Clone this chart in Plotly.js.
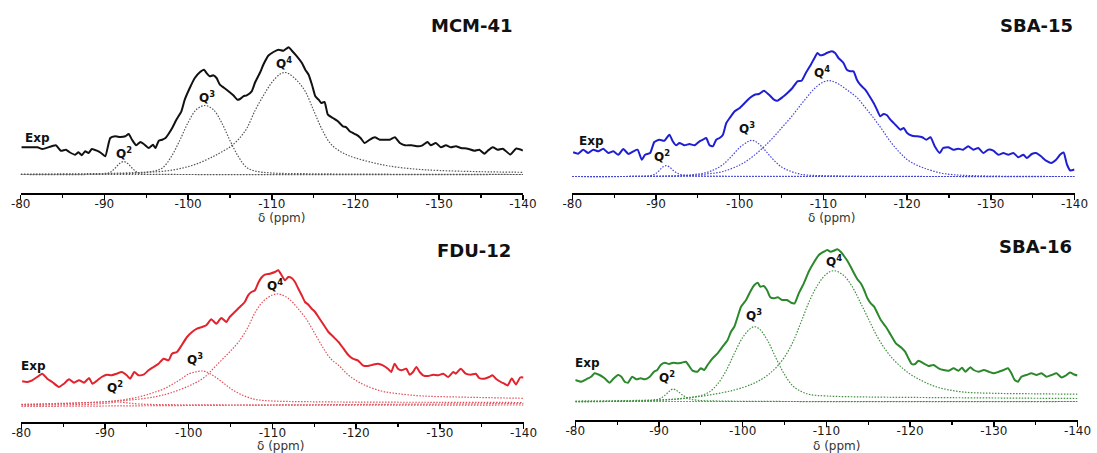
<!DOCTYPE html>
<html><head><meta charset="utf-8">
<script src="https://cdn.plot.ly/plotly-3.0.1.min.js"></script>
<style>html,body{margin:0;padding:0;background:#fff;}#chart{width:1097px;height:453px;}</style>
</head><body><div id="chart"></div>
<script>
// ---------- data ----------
const panelNames = ['MCM-41', 'SBA-15', 'FDU-12', 'SBA-16'];
const tickVals = [-80, -90, -100, -110, -120, -130, -140];
const tickText = ['-80', '-90', '-100', '-110', '-120', '-130', '-140'];
const minorTickVals = [-85, -95, -105, -115, -125, -135];
const axisTitle = 'δ (ppm)';
const labelTexts = ['Exp', 'Q<sup>2</sup>', 'Q<sup>3</sup>', 'Q<sup>4</sup>'];

// MCM-41  [ppm, intensity]
const mcmExp = [[-80.1,45.2],[-82.0,45.2],[-82.6,43.5],[-84.2,47.2],[-84.8,41.8],[-85.4,42.8],[-85.8,40.5],[-86.5,37.8],[-86.9,40.2],[-87.3,37.2],[-87.7,41.2],[-88.1,39.5],[-88.5,43.5],[-89.1,41.8],[-89.6,39.5],[-90.1,36.2],[-90.7,54.5],[-91.3,56.2],[-91.9,55.5],[-92.5,56.2],[-92.9,58.5],[-93.3,52.8],[-93.8,47.2],[-94.3,50.5],[-94.7,48.5],[-95.3,44.5],[-95.8,47.8],[-96.1,44.5],[-96.5,51.8],[-96.9,52.8],[-97.3,54.5],[-97.6,57.8],[-98.1,64.5],[-98.6,72.8],[-99.2,81.2],[-99.6,92.8],[-100.2,104.5],[-100.8,114.5],[-101.4,120.2],[-101.9,122.8],[-102.2,119.5],[-102.6,116.2],[-103.0,117.2],[-103.4,114.5],[-103.8,107.8],[-104.6,102.8],[-105.4,97.2],[-105.9,92.8],[-106.2,93.5],[-106.6,96.2],[-107.0,97.2],[-107.6,101.2],[-108.0,110],[-108.6,120],[-109.0,128],[-109.6,137],[-110.2,140.5],[-110.8,142.8],[-111.4,141.8],[-112.0,145.2],[-112.4,141.8],[-113.0,136.2],[-113.6,129.5],[-114.0,122.8],[-114.4,117.8],[-114.8,107.8],[-115.2,96.2],[-115.6,92.8],[-115.9,89.5],[-116.3,90.5],[-116.7,77.8],[-117.3,74.5],[-117.9,71.2],[-118.5,66.2],[-118.9,65.2],[-119.3,61.2],[-119.7,59.5],[-120.1,57.8],[-120.6,54.5],[-121.1,49.5],[-121.7,52.8],[-122.3,55.2],[-122.9,52.8],[-123.5,52.8],[-124.1,52.8],[-124.7,55.2],[-125.3,49.5],[-125.9,47.2],[-126.7,47.2],[-127.5,46.2],[-128.0,47.2],[-128.6,50.5],[-129.0,47.2],[-129.6,49.5],[-130.2,45.2],[-130.8,47.2],[-131.4,45.2],[-132.0,46.2],[-132.6,44.5],[-133.4,43.8],[-134.2,41.8],[-134.8,42.8],[-135.4,38.8],[-135.8,41.8],[-136.4,45.2],[-137.0,42.8],[-137.6,43.8],[-138.5,38],[-139.2,44],[-140,42]];
const mcmQ2 = [[-80,18],[-88,18],[-89.5,18.3],[-90.3,18.8],[-90.8,20.8],[-91.3,24.5],[-91.8,28.9],[-92.3,31],[-92.8,28.9],[-93.3,24.5],[-93.8,20.8],[-94.3,18.8],[-95,18.3],[-100,18],[-140,18]];
const mcmQ3 = [[-80,18],[-90,18.5],[-94,19.5],[-96,21.5],[-97,25],[-98,36],[-99,52],[-100,70],[-101,83],[-102,87],[-103,83],[-104,70],[-105,52],[-106,36],[-107,25],[-108,21.5],[-110,19.5],[-114,18.8],[-120,18.4],[-140,18]];
const mcmQ4 = [[-80,18.3],[-88,18.8],[-92,19.4],[-95,20.3],[-97,21.2],[-99,23.8],[-101,28.5],[-103,36],[-104,40.5],[-105,45.5],[-106,53],[-107,64],[-108,82],[-109,97],[-110,110],[-111,118.5],[-111.5,120],[-112,119],[-113,112],[-114,101],[-115,82],[-116,63],[-117,49],[-118,42],[-119,37.5],[-120,34.5],[-122,30],[-124,26.5],[-127,23.5],[-130,22],[-135,20.8],[-140,20.2]];
const mcmBase = [[-80,18],[-140,18]];

// SBA-15
const sba15Exp = [[-80.1,40.2],[-80.7,38.8],[-81.3,42.8],[-81.9,39.5],[-82.5,42.8],[-83.1,41.2],[-83.7,43.8],[-84.3,39.5],[-84.9,41.2],[-85.5,37.8],[-86.1,43.5],[-86.7,38.5],[-87.3,41.2],[-87.8,42.8],[-88.3,32.8],[-88.7,37.8],[-89.3,39.5],[-89.8,50.5],[-90.4,52.8],[-91.0,51.8],[-91.6,57.8],[-92.0,51.2],[-92.4,47.2],[-92.8,49.5],[-93.4,47.2],[-94.0,48.5],[-94.6,47.2],[-95.2,51.2],[-95.6,52.8],[-96.0,54.5],[-96.4,47.2],[-96.8,46.2],[-97.2,52.8],[-97.6,54.5],[-98.0,57.8],[-98.4,69.5],[-98.8,74.5],[-99.4,81.2],[-100.0,84.5],[-100.6,89.5],[-101.2,94.5],[-101.8,97.8],[-102.3,98.5],[-102.9,101.8],[-103.5,97.8],[-104.1,92.8],[-104.5,91.8],[-105.1,95.2],[-105.7,99.5],[-106.3,104.5],[-106.9,111.2],[-107.4,111.8],[-107.9,119.5],[-108.5,127.8],[-108.9,134],[-109.3,139.5],[-109.6,137.2],[-110.0,137.8],[-110.4,139.5],[-111.0,141.2],[-111.4,139.5],[-111.8,134.5],[-112.4,129.5],[-112.8,122.8],[-113.2,121.2],[-113.6,121.2],[-114.0,112.8],[-114.4,107.8],[-115.0,102.8],[-115.4,97.8],[-116.0,89.5],[-116.4,82.8],[-116.8,76.2],[-117.2,78.5],[-117.6,77.2],[-118.0,72.8],[-118.6,67.8],[-119.2,62.8],[-119.6,64.5],[-120.0,59.5],[-120.6,56.8],[-121.2,56.2],[-121.8,55.2],[-122.3,52.8],[-122.8,55.2],[-123.3,46.2],[-123.9,39.5],[-124.3,44.5],[-124.9,45.2],[-125.5,42.8],[-126.1,43.8],[-126.7,42.8],[-127.3,46.2],[-127.9,42.8],[-128.5,44.5],[-129.1,39.5],[-129.7,42.8],[-130.3,41.8],[-130.9,37.8],[-131.5,39.5],[-132.1,37.8],[-132.7,39.5],[-133.3,35.2],[-133.9,37.8],[-134.3,34.5],[-134.9,38.5],[-135.4,39.5],[-136.0,36.2],[-136.6,31.8],[-137.2,29.5],[-137.8,32.8],[-138.3,38],[-138.7,40],[-139.1,28],[-139.5,22],[-140,23]];
const sba15Q2 = [[-80,16],[-88,16.2],[-89.3,16.8],[-89.9,18.5],[-90.4,22],[-90.8,25.5],[-91.2,26.8],[-91.6,25.5],[-92.0,22.5],[-92.5,19.5],[-93.0,17.8],[-94,17],[-96,16.5],[-100,16.2],[-140,16]];
const sba15Q3 = [[-80,16],[-90,16.3],[-94,17.5],[-96,20],[-97,23],[-98,28],[-99,36],[-100,45],[-101,51],[-101.4,52.2],[-102,50.5],[-103,42.5],[-104,33],[-105,25.5],[-106,21.5],[-107,18.8],[-108,17.5],[-112,16.5],[-140,16]];
const sba15Q4 = [[-80,16],[-90,16.2],[-94,17],[-96,18.5],[-98,21],[-100,27.5],[-101,32.5],[-102,39],[-103,46.5],[-104,55],[-105,64.5],[-106,74],[-107,84.5],[-108,95],[-109,104.5],[-110,110.5],[-110.6,111.8],[-111,111.5],[-112,107.5],[-113,101.5],[-114,95],[-115,85],[-116,74.5],[-117,63],[-118,51],[-119,41],[-120,33],[-121,28],[-122,24.5],[-124,19.5],[-126,17.5],[-128,16.8],[-132,16.2],[-140,16]];
const sba15Base = [[-80,16],[-140,16]];

// FDU-12
const fduExp = [[-80.1,40.2],[-80.7,39.5],[-81.3,41.2],[-81.9,44.5],[-82.5,47.8],[-83.1,42.8],[-83.7,39.5],[-84.5,34.5],[-85.1,37.8],[-85.7,42.2],[-86.3,38.8],[-86.9,41.2],[-87.5,38.8],[-88.1,43.5],[-88.5,37.8],[-89.1,41.2],[-89.6,44.5],[-90.2,46.8],[-90.8,46.2],[-91.4,47.8],[-92.0,49.5],[-92.6,46.2],[-93.0,42.8],[-93.5,49.5],[-94.0,46.2],[-94.6,46.8],[-95.2,51.2],[-95.8,54.5],[-96.4,57.8],[-97.0,62.8],[-97.6,61.2],[-98.0,67.8],[-98.6,69.5],[-99.2,76.8],[-99.8,84.5],[-100.4,89.5],[-101.0,92.8],[-101.6,94.5],[-102.1,96.2],[-102.7,102.2],[-103.3,97.8],[-103.9,103.5],[-104.5,99.5],[-104.9,104.5],[-105.5,109.5],[-106.1,114.5],[-106.7,119.5],[-107.1,126.2],[-107.5,129.5],[-107.9,131],[-108.3,138.5],[-108.7,144],[-109.1,146.8],[-109.7,147.8],[-110.3,149.5],[-110.7,151.2],[-111.1,146.2],[-111.5,141.2],[-111.9,144.5],[-112.3,143.5],[-112.7,139.5],[-113.1,132.8],[-113.5,126.2],[-113.9,119.5],[-114.3,116.8],[-114.7,112.8],[-115.1,109.5],[-115.5,104.5],[-115.9,99.5],[-116.3,94.5],[-116.7,89.5],[-117.3,84.5],[-117.9,79.5],[-118.5,72.8],[-119.1,66.2],[-119.6,62.8],[-120.2,61.2],[-120.8,56.2],[-121.4,55.5],[-122.0,56.8],[-122.6,57.8],[-123.2,56.2],[-123.8,52.8],[-124.2,49.5],[-124.6,57.8],[-125.0,52.8],[-125.4,51.2],[-126.0,52.8],[-126.4,46.8],[-126.8,49.5],[-127.2,54.5],[-127.6,49.5],[-128.0,46.2],[-128.6,45.5],[-129.2,46.8],[-129.8,46.2],[-130.4,47.8],[-131.0,44.5],[-131.6,49.5],[-131.9,47.8],[-132.5,52.8],[-133.1,47.8],[-133.7,46.8],[-134.3,47.8],[-134.7,43.5],[-135.3,42.8],[-135.9,44.5],[-136.3,46.2],[-136.7,42.8],[-137.3,39.5],[-137.7,37.8],[-138.1,36],[-138.6,43],[-139.1,37],[-139.6,44],[-140,44]];
const fduQ2 = [[-80,16.3],[-86,16.8],[-89,17.5],[-90.5,18.5],[-91.5,19.5],[-92.5,18.8],[-94,17.5],[-98,16.8],[-140,16.5]];
const fduQ3 = [[-80,16.8],[-85,17.8],[-88,18.8],[-90,19.6],[-92,21.5],[-93,22.8],[-94,24.5],[-95,26.8],[-96,29.5],[-97,32.5],[-98,37],[-99,42],[-100,47.5],[-101,50],[-101.6,50.5],[-102,50],[-103,45.5],[-104,39.5],[-105,33],[-106,28],[-107,24.5],[-108,22],[-110,20.5],[-114,19.8],[-120,19.4],[-130,19.2],[-140,19]];
const fduQ4 = [[-80,17.2],[-85,18.2],[-90,19.8],[-93,21.5],[-96,24.8],[-98,29],[-100,35.5],[-101,39.5],[-102,45],[-103,53.5],[-104,62],[-105,70.5],[-106,80],[-107,93],[-108,110],[-109,121],[-110,126.5],[-110.5,127.5],[-111,127],[-112,122.5],[-113,113.5],[-114,103],[-115,89],[-116,74.5],[-117,62.5],[-118,55.5],[-119,47],[-120,41],[-121,36.5],[-123,30.5],[-125,27.8],[-128,25.5],[-132,24.5],[-136,23.8],[-140,23.2]];
const fduBase = [[-80,15],[-140,18]];

// SBA-16
const sba16Exp = [[-80.0,39.5],[-80.7,37.8],[-81.3,40.2],[-81.9,42.8],[-82.3,46.2],[-82.9,44.5],[-83.5,41.2],[-84.1,36.8],[-84.6,41.2],[-85.1,44.5],[-85.5,42.8],[-85.9,37.8],[-86.3,36.8],[-86.8,42.8],[-87.3,40.2],[-87.8,41.2],[-88.3,40.2],[-88.9,42.8],[-89.4,47.8],[-89.8,49.5],[-90.2,54.5],[-90.7,56.8],[-91.2,55.5],[-91.7,56.8],[-92.2,56.2],[-92.7,56.8],[-93.2,57.8],[-93.6,53.5],[-94.0,48.8],[-94.6,47.8],[-95.0,51.2],[-95.4,49.5],[-95.8,54.5],[-96.4,61.2],[-97.0,66.2],[-97.6,72.8],[-98.2,79.5],[-98.6,87.8],[-99.0,92.8],[-99.4,102.8],[-99.8,112.8],[-100.4,119.5],[-100.9,127.8],[-101.4,134.5],[-101.8,136.8],[-102.1,132.8],[-102.5,133.5],[-102.9,129.5],[-103.3,122.2],[-103.7,121.2],[-104.2,122.2],[-104.7,119.5],[-105.3,119.5],[-105.8,116.8],[-106.2,116.2],[-106.7,126.2],[-107.3,136.2],[-107.9,148],[-108.5,157],[-109.1,164.5],[-109.7,167.8],[-110.1,169.5],[-110.5,167.8],[-110.9,168.8],[-111.3,170.2],[-111.7,167.8],[-112.1,163.5],[-112.5,158.8],[-112.9,152.8],[-113.3,146.2],[-113.7,140.2],[-114.1,136.2],[-114.5,129.5],[-114.9,121.2],[-115.3,116.2],[-115.7,112.8],[-116.1,106.2],[-116.5,99.5],[-117.1,92.8],[-117.7,84.5],[-118.3,76.2],[-118.9,72.2],[-119.4,67.8],[-119.8,61.2],[-120.2,55.5],[-120.6,55.5],[-121.0,58.8],[-121.6,56.2],[-122.2,53.5],[-122.8,54.5],[-123.4,51.2],[-124.0,49.5],[-124.6,48.8],[-125.2,51.2],[-125.8,48.8],[-126.2,51.8],[-126.6,47.8],[-127.2,52.2],[-127.6,49.5],[-128.2,47.8],[-128.8,49.5],[-129.4,47.8],[-130.0,46.2],[-130.6,47.8],[-131.2,49.5],[-131.7,51.2],[-132.1,46.2],[-132.5,39.5],[-132.9,37.8],[-133.3,42.8],[-133.9,44.5],[-134.5,46.2],[-135.1,44.5],[-135.7,46.2],[-136.3,42.8],[-136.9,44.5],[-137.5,46.2],[-138.1,42],[-138.6,44],[-139.1,47],[-139.6,45],[-140,44]];
const sba16Q2 = [[-80,18],[-87,18.3],[-89,19],[-90,20.5],[-90.6,23.5],[-91.2,28],[-91.7,30.5],[-92.2,28.5],[-92.8,24.5],[-93.5,21],[-94.5,19.3],[-97,18.5],[-140,18]];
const sba16Q3 = [[-80,18.5],[-88,19.2],[-92,20.5],[-94,22.5],[-95,24],[-96,27.5],[-97,35.5],[-98,48.5],[-99,66],[-100,82],[-101,91.5],[-101.4,92.8],[-102,90.5],[-103,78.5],[-104,61],[-105,45],[-106,33.5],[-107,28],[-108,25],[-110,23.5],[-115,22.5],[-125,21.8],[-140,21]];
const sba16Q4 = [[-80,17.5],[-85,18.2],[-90,19.2],[-93,21],[-96,24.5],[-99,29.5],[-101,35],[-102,39],[-103,44.5],[-104,52],[-105,62.5],[-106,77.5],[-107,98],[-108,119],[-109,135],[-110,145.5],[-110.9,148.8],[-112,144.5],[-113,134],[-114,118],[-115,101],[-116,84],[-117,70.5],[-118,60],[-119,52],[-120,45.5],[-121,40.5],[-123,33],[-126,27.8],[-130,26.2],[-135,25.7],[-140,25.3]];
const sba16Base = [[-80,18],[-140,18]];

// ---------- layout helpers ----------
const W = 1097, H = 453;
const expData = [mcmExp, sba15Exp, fduExp, sba16Exp];
const qData = [[mcmQ2, mcmQ3, mcmQ4], [sba15Q2, sba15Q3, sba15Q4], [fduQ2, fduQ3, fduQ4], [sba16Q2, sba16Q3, sba16Q4]];
const baseData = [mcmBase, sba15Base, fduBase, sba16Base];
const span = 502.2; // px covered by -80 .. -140

const panels = [
  {x0: 20.7, axisY: 192.5, topY: 30, exp: '#111111', q: '#555555',
   labels: [[-82.0,55],[-92.4,36.5],[-102.2,92.5],[-111.4,126.5]], titleRight: 515, titleY: 26, axTitleY: 217.5, axTitleX: -111.1},
  {x0: 572.3, axisY: 192.5, topY: 30, exp: '#1e1ed2', q: '#4646d6',
   labels: [[-82.3,52],[-90.7,33.5],[-100.9,61.5],[-109.8,117.5]], titleRight: 1075, titleY: 26, axTitleY: 217.5, axTitleX: -111.0},
  {x0: 21.3, axisY: 421.5, topY: 235, exp: '#e2222c', q: '#e0505a',
   labels: [[-81.5,55.5],[-91.2,31.5],[-100.7,59.5],[-110.3,133.5]], titleRight: 513, titleY: 250, axTitleY: 446, axTitleX: -111.0},
  {x0: 575.3, axisY: 419.5, topY: 235, exp: '#2b882b', q: '#3f8f3f',
   labels: [[-81.5,56.8],[-90.9,39.5],[-101.4,101.5],[-110.9,155.5]], titleRight: 1074, titleY: 246, axTitleY: 446, axTitleX: -111.2}
];

const traces = [];
const layout = {
  width: W, height: H,
  margin: {l: 0, r: 0, t: 0, b: 0},
  paper_bgcolor: '#ffffff', plot_bgcolor: 'rgba(0,0,0,0)',
  showlegend: false,
  annotations: []
};

panels.forEach((p, i) => {
  const n = i + 1;
  const xa = 'x' + (n === 1 ? '' : n), ya = 'y' + (n === 1 ? '' : n);
  const xKey = 'xaxis' + (n === 1 ? '' : n), yKey = 'yaxis' + (n === 1 ? '' : n);
  const yTop = p.axisY - p.topY;

  layout[xKey] = {
    domain: [p.x0 / W, (p.x0 + span) / W],
    anchor: ya,
    range: [-80, -140],
    showgrid: false, zeroline: false,
    showline: true, linecolor: '#000', linewidth: 2,
    ticks: 'outside', ticklen: 5, tickwidth: 1.5, tickcolor: '#000',
    tickvals: tickVals, ticktext: tickText,
    ticklabelstandoff: -6,
    minor: {tickvals: minorTickVals, ticks: 'outside', ticklen: 3, tickwidth: 1.2, tickcolor: '#000', showgrid: false},
    tickfont: {family: 'DejaVu Sans, Arial, sans-serif', size: 12, color: '#1a1a1a'},
    fixedrange: true
  };
  layout[yKey] = {
    domain: [1 - p.axisY / H, 1 - p.topY / H],
    anchor: xa,
    range: [0, yTop],
    visible: false, fixedrange: true
  };

  traces.push({x: baseData[i].map(d => d[0]), y: baseData[i].map(d => d[1]), xaxis: xa, yaxis: ya,
    mode: 'lines', line: {color: p.q, width: 1.2, dash: '1.5px,1.5px'}, hoverinfo: 'skip'});
  qData[i].forEach(q => {
    traces.push({x: q.map(d => d[0]), y: q.map(d => d[1]), xaxis: xa, yaxis: ya,
      mode: 'lines', line: {color: p.q, width: 1.2, dash: '1.5px,1.5px', shape: 'spline', smoothing: 1}, hoverinfo: 'skip'});
  });
  traces.push({x: expData[i].map(d => d[0]), y: expData[i].map(d => d[1]), xaxis: xa, yaxis: ya,
    mode: 'lines', line: {color: p.exp, width: 2, shape: 'spline', smoothing: 0.5}, hoverinfo: 'skip'});

  p.labels.forEach((pos, k) => {
    layout.annotations.push({
      xref: xa, yref: ya, x: pos[0], y: pos[1], text: labelTexts[k], showarrow: false,
      xanchor: 'center', yanchor: 'middle', yshift: k === 0 ? 0 : 3,
      font: {family: 'DejaVu Sans, Arial, sans-serif', size: 12, color: '#111', weight: 'bold'}
    });
  });
  layout.annotations.push({
    xref: 'paper', yref: 'paper', x: p.titleRight / W, y: 1 - p.titleY / H,
    xanchor: 'right', yanchor: 'middle', text: panelNames[i], showarrow: false,
    font: {family: 'DejaVu Sans, Arial, sans-serif', size: 18, color: '#111', weight: 'bold'}
  });
  layout.annotations.push({
    xref: xa, yref: 'paper', x: p.axTitleX, y: 1 - p.axTitleY / H,
    xanchor: 'center', yanchor: 'middle', text: axisTitle, showarrow: false,
    font: {family: 'DejaVu Sans, Arial, sans-serif', size: 12, color: '#333'}
  });
});

Plotly.newPlot('chart', traces, layout, {staticPlot: true, displayModeBar: false});
</script>
</body></html>
